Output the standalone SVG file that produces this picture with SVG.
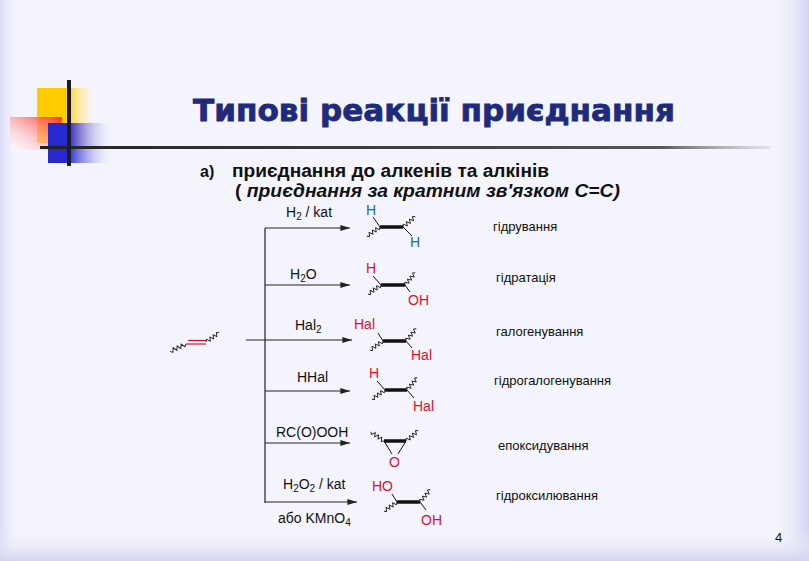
<svg xmlns="http://www.w3.org/2000/svg" xmlns:xlink="http://www.w3.org/1999/xlink" width="809" height="561" viewBox="0 0 809 561">
<defs>
<linearGradient id="bgL" x1="0" x2="1"><stop offset="0" stop-color="#dcdcf6"/><stop offset="1" stop-color="#f4f4fd"/></linearGradient>
<linearGradient id="bgR" x1="1" x2="0"><stop offset="0" stop-color="#d4d4f2"/><stop offset="1" stop-color="#f4f4fd" stop-opacity="0"/></linearGradient>
<linearGradient id="bgB" y1="1" y2="0" x1="0" x2="0"><stop offset="0" stop-color="#d4d4f2"/><stop offset="1" stop-color="#f4f4fd" stop-opacity="0"/></linearGradient>
<linearGradient id="yel" x1="0" x2="1"><stop offset="0.45" stop-color="#ffcc00"/><stop offset="1" stop-color="#fff" stop-opacity="0"/></linearGradient>
<linearGradient id="red" x1="1" y1="0" x2="0" y2="1"><stop offset="0" stop-color="#ff3030"/><stop offset="1" stop-color="#fff" stop-opacity="0.3"/></linearGradient>
<linearGradient id="blu" x1="0" x2="1"><stop offset="0.3" stop-color="#2828d0"/><stop offset="1" stop-color="#fff" stop-opacity="0"/></linearGradient>
<linearGradient id="hl" x1="0" x2="1"><stop offset="0" stop-color="#222"/><stop offset="0.85" stop-color="#555"/><stop offset="1" stop-color="#999" stop-opacity="0.2"/></linearGradient>
<marker id="ar" viewBox="0 0 10 6" refX="10" refY="3" markerWidth="8" markerHeight="5" orient="auto"><path d="M0,0 L10,3 L0,6 Z" fill="#222"/></marker>
<path id="w" d="M0,0 l2,-2 l2,4 l2,-4 l2,4 l2,-4 l2,4 l2,-4 l2,2" fill="none" stroke="#222" stroke-width="0.9"/>
</defs>
<style>
.t{font-family:"Liberation Sans",Arial,sans-serif;fill:#111}
.r{fill:#e0102a}.b{fill:#1a6aa8}
.lab{font-size:13px}
.mol{font-size:14px}
.bd{stroke:#111;stroke-width:3.5}
.sb{stroke:#111;stroke-width:1}
.ln{stroke:#222;stroke-width:1.2;fill:none}
</style>
<rect width="809" height="561" fill="#f4f4fd"/>
<rect width="14" height="561" fill="url(#bgL)"/>
<rect x="770" width="39" height="561" fill="url(#bgR)"/>
<rect y="530" width="809" height="31" fill="url(#bgB)"/>
<g id="logo">
<rect x="37" y="88" width="63" height="55" fill="url(#yel)"/>
<rect x="10" y="117" width="52" height="33" fill="url(#red)"/>
<rect x="48" y="123" width="68" height="40" fill="url(#blu)"/>
<rect x="40" y="146" width="730" height="3" fill="url(#hl)"/>
<rect x="67" y="80" width="4" height="86" fill="#1a1a2a"/>
</g>
<g id="title"><text x="193" y="121" font-family="'DejaVu Sans',Verdana,sans-serif" font-weight="bold" font-size="30" fill="#1e2a7a" stroke="#1e2a7a" stroke-width="0.8" textLength="482" lengthAdjust="spacingAndGlyphs">Типові реакції приєднання</text></g>
<g id="heading" class="t" font-weight="bold">
<text x="200" y="177" font-size="16">а)</text>
<text x="232" y="177" font-size="18" textLength="317" lengthAdjust="spacingAndGlyphs">приєднання до алкенів та алкінів</text>
<text x="235" y="197" font-size="18" textLength="385" lengthAdjust="spacingAndGlyphs">( <tspan font-style="italic">приєднання за кратним зв'язком С=С)</tspan></text>
</g>
<g id="start">
<use href="#w" transform="translate(186,344) rotate(155) scale(1.1,1)"/>
<line x1="186" y1="344" x2="206" y2="344" stroke="#e0102a" stroke-width="1.2"/>
<line x1="188" y1="340.5" x2="206" y2="340.5" stroke="#e0102a" stroke-width="1.2"/>
<use href="#w" transform="translate(206,342) rotate(-35)"/>
</g>
<g id="connectors">
<line x1="265" y1="228" x2="265" y2="503" class="ln"/>
<line x1="265" y1="228" x2="350" y2="228" class="ln" marker-end="url(#ar)"/>
<line x1="265" y1="285" x2="350" y2="285" class="ln" marker-end="url(#ar)"/>
<line x1="246" y1="340" x2="352" y2="340" class="ln" marker-end="url(#ar)"/>
<line x1="265" y1="391" x2="350" y2="391" class="ln" marker-end="url(#ar)"/>
<line x1="265" y1="443" x2="350" y2="443" class="ln" marker-end="url(#ar)"/>
<line x1="265" y1="502" x2="357" y2="502" class="ln" marker-end="url(#ar)"/>
</g>
<g id="reagents" class="t" font-size="14">
<text x="286" y="217">H<tspan font-size="10" dy="3">2</tspan><tspan dy="-3"> / kat</tspan></text>
<text x="290" y="279">H<tspan font-size="10" dy="3">2</tspan><tspan dy="-3">O</tspan></text>
<text x="295" y="330">Hal<tspan font-size="10" dy="3">2</tspan></text>
<text x="297" y="382">HHal</text>
<text x="276" y="437">RC(O)OOH</text>
<text x="283" y="489">H<tspan font-size="10" dy="3">2</tspan><tspan dy="-3">O</tspan><tspan font-size="10" dy="3">2</tspan><tspan dy="-3"> / kat</tspan></text>
<text x="278" y="523">або KMnO<tspan font-size="10" dy="3">4</tspan></text>
</g>
<g id="p1" class="t mol">
<line x1="380" y1="227" x2="403" y2="227" class="bd"/>
<line x1="380" y1="227" x2="373" y2="217" class="sb"/>
<line x1="403" y1="227" x2="412" y2="236" class="sb"/>
<use href="#w" transform="translate(380,227) rotate(145)"/>
<use href="#w" transform="translate(403,227) rotate(-40)"/>
<text x="366" y="215" class="b">H</text><text x="410" y="247" class="b">H</text>
</g>
<g id="p2" class="t mol">
<line x1="381" y1="285" x2="405" y2="285" class="bd"/>
<line x1="381" y1="285" x2="373" y2="276" class="sb"/>
<line x1="405" y1="285" x2="410" y2="292" class="sb"/>
<use href="#w" transform="translate(381,285) rotate(145)"/>
<use href="#w" transform="translate(405,285) rotate(-50)"/>
<text x="366" y="273" class="r">H</text><text x="408" y="305" class="r">OH</text>
</g>
<g id="p3" class="t mol">
<line x1="383" y1="341" x2="406" y2="341" class="bd"/>
<line x1="383" y1="341" x2="378" y2="333" class="sb"/>
<line x1="406" y1="341" x2="412" y2="348" class="sb"/>
<use href="#w" transform="translate(383,341) rotate(145)"/>
<use href="#w" transform="translate(406,341) rotate(-50)"/>
<text x="354" y="329" class="r">Hal</text><text x="411" y="360" class="r">Hal</text>
</g>
<g id="p4" class="t mol">
<line x1="385" y1="390" x2="407" y2="390" class="bd"/>
<line x1="385" y1="390" x2="377" y2="381" class="sb"/>
<line x1="407" y1="390" x2="414" y2="398" class="sb"/>
<use href="#w" transform="translate(385,390) rotate(145)"/>
<use href="#w" transform="translate(407,390) rotate(-50)"/>
<text x="369" y="378" class="r">H</text><text x="413" y="411" class="r">Hal</text>
</g>
<g id="p5" class="t mol">
<line x1="384" y1="441" x2="406" y2="441" class="bd"/>
<line x1="384" y1="441" x2="392" y2="454" class="sb"/>
<line x1="406" y1="441" x2="398" y2="454" class="sb"/>
<use href="#w" transform="translate(384,441) rotate(-145)"/>
<use href="#w" transform="translate(406,441) rotate(-40)"/>
<text x="389" y="467" class="r">O</text>
</g>
<g id="p6" class="t mol">
<line x1="397" y1="502" x2="420" y2="502" class="bd"/>
<line x1="397" y1="502" x2="392" y2="494" class="sb"/>
<line x1="420" y1="502" x2="426" y2="510" class="sb"/>
<use href="#w" transform="translate(397,502) rotate(145)"/>
<use href="#w" transform="translate(420,502) rotate(-50)"/>
<text x="372" y="491" class="r">HO</text><text x="421" y="525" class="r">OH</text>
</g>
<g id="names" class="t lab">
<text x="493" y="231">гідрування</text>
<text x="496" y="282">гідратація</text>
<text x="496" y="336">галогенування</text>
<text x="494" y="385">гідрогалогенування</text>
<text x="498" y="450">епоксидування</text>
<text x="496" y="500">гідроксилювання</text>
</g>
<text x="775" y="542" class="t" font-size="13">4</text>
</svg>
